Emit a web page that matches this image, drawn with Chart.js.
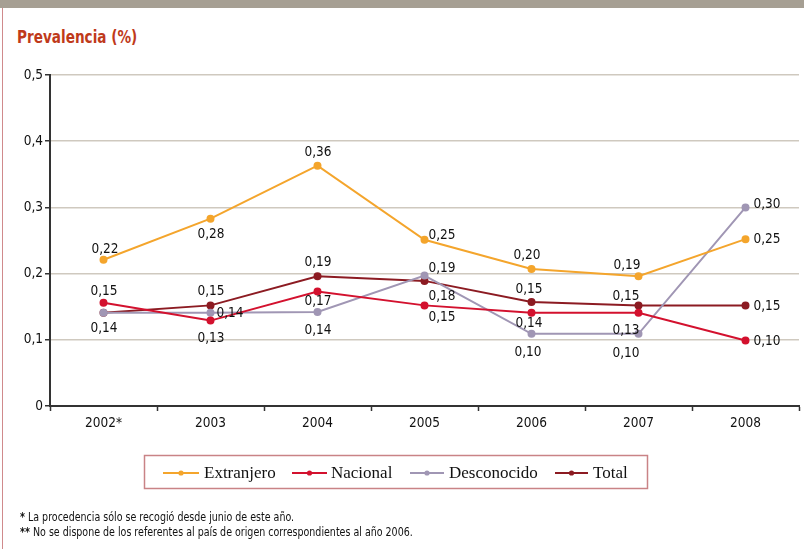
<!DOCTYPE html>
<html>
<head>
<meta charset="utf-8">
<script src="https://cdn.jsdelivr.net/npm/chart.js@4/dist/chart.umd.min.js"></script>
<style>
  html, body { margin: 0; padding: 0; background: #fff; }
  #wrap { position: relative; width: 804px; height: 549px; overflow: hidden; background: #fff; }
  #topbar { position: absolute; left: 0; top: 0; width: 804px; height: 8px; background: #a69f93; }
  #leftline { position: absolute; left: 2px; top: 8px; width: 1px; height: 541px; background: #d08a8c; }
  #title { position: absolute; left: 17px; top: 27px; font-family: "Liberation Sans Narrow", "DejaVu Sans Condensed", sans-serif; font-weight: bold; font-size: 17px; color: #bf3a1b; white-space: nowrap; transform: scaleX(0.89); transform-origin: left top; }
  #notes { position: absolute; left: 20px; top: 510px; font-family: "Liberation Sans Narrow", "DejaVu Sans Condensed", sans-serif; font-size: 12px; line-height: 15px; color: #111; white-space: nowrap; transform: scaleX(0.88); transform-origin: left top; }
  #notes b { font-weight: bold; }
  canvas { position: absolute; left: 0; top: 0; }
</style>
</head>
<body>
<div id="wrap">
  <div id="topbar"></div>
  <div id="leftline"></div>
  <div id="title">Prevalencia (%)</div>
  <canvas id="c" width="804" height="549"></canvas>
  <div id="notes"><b>*</b> La procedencia sólo se recogió desde junio de este año.<br><b>**</b> No se dispone de los referentes al país de origen correspondientes al año 2006.</div>
</div>
<script>
// ---- Data ----
const categories = ['2002*', '2003', '2004', '2005', '2006', '2007', '2008'];
const seriesNames = ['Extranjero', 'Nacional', 'Desconocido', 'Total'];
const extranjero  = [0.221, 0.283, 0.363, 0.251, 0.207, 0.196, 0.252];
const nacional    = [0.156, 0.129, 0.173, 0.152, 0.141, 0.141, 0.099];
const desconocido = [0.141, 0.141, 0.142, 0.197, 0.109, 0.109, 0.300];
const total       = [0.141, 0.152, 0.196, 0.189, 0.157, 0.152, 0.152];
const extLabels = ['0,22', '0,28', '0,36', '0,25', '0,20', '0,19', '0,25'];
const nacLabels = ['0,15', '0,13', '0,17', '0,15', '0,14', '0,13', '0,10'];
const desLabels = ['0,14', '0,14', '0,14', '0,19', '0,10', '0,10', '0,30'];
const totLabels = ['0,14', '0,15', '0,19', '0,18', '0,15', '0,15', '0,15'];
const yTicks = [0, 0.1, 0.2, 0.3, 0.4, 0.5];

// ---- Styles ----
const colors = ['#f4a52c', '#d3112e', '#a096b4', '#8c1b22'];
const labelOffsets = [
  [[1,-11],[0,15],[0,-14],[17,-5],[-5,-14],[-12,-11],[21,0]],
  [[0,-12],[0,17],[0,10],[17,12],[-3,10],[-13,17],[21,1]],
  [[0,15],[19,0],[0,18],[17,-8],[-4,18],[-13,19],[21,-3]],
  [[0,15],[0,-14],[0,-14],[17,15],[-3,-13],[-13,-9],[21,1]]
];
const narrow = '"Liberation Sans Narrow", "DejaVu Sans Condensed", sans-serif';

const allValues = [extranjero, nacional, desconocido, total];
const allLabels = [extLabels, nacLabels, desLabels, totLabels];

const datasets = allValues.map((vals, i) => ({
  label: seriesNames[i],
  data: vals,
  borderColor: colors[i],
  backgroundColor: colors[i],
  pointBackgroundColor: colors[i],
  pointBorderColor: colors[i],
  pointRadius: 3,
  pointHoverRadius: 3,
  borderWidth: 2,
  tension: 0,
  fill: false
}));

const valueLabels = {
  id: 'valueLabels',
  afterDatasetsDraw(chart) {
    const ctx = chart.ctx;
    ctx.save();
    ctx.font = '13.5px ' + narrow;
    ctx.fillStyle = '#111';
    ctx.textAlign = 'center';
    ctx.textBaseline = 'middle';
    const drawn = new Set();
    chart.data.datasets.forEach((ds, di) => {
      const meta = chart.getDatasetMeta(di);
      meta.data.forEach((pt, i) => {
        const off = labelOffsets[di][i];
        const x = Math.round(pt.x + off[0]), y = Math.round(pt.y + off[1]);
        const key = allLabels[di][i] + '@' + x + ',' + y;
        if (drawn.has(key)) return;
        drawn.add(key);
        ctx.fillText(allLabels[di][i], x, y);
      });
    });
    ctx.restore();
  }
};

const customLegend = {
  id: 'customLegend',
  afterDraw(chart) {
    const ctx = chart.ctx;
    ctx.save();
    ctx.strokeStyle = '#c98386';
    ctx.lineWidth = 1.5;
    ctx.strokeRect(144.5, 455.5, 503, 33);
    const items = [
      { x0: 163, x1: 199, tx: 204 },
      { x0: 292, x1: 327, tx: 331 },
      { x0: 410, x1: 444, tx: 449 },
      { x0: 555, x1: 588, tx: 593 }
    ];
    const y = 473;
    ctx.font = '17px "Liberation Serif", "DejaVu Serif", serif';
    ctx.textBaseline = 'middle';
    ctx.textAlign = 'left';
    chart.data.datasets.forEach((ds, i) => {
      const it = items[i];
      ctx.strokeStyle = ds.borderColor;
      ctx.lineWidth = 2;
      ctx.beginPath();
      ctx.moveTo(it.x0, y);
      ctx.lineTo(it.x1, y);
      ctx.stroke();
      ctx.fillStyle = ds.borderColor;
      ctx.beginPath();
      ctx.arc((it.x0 + it.x1) / 2, y, 2.6, 0, Math.PI * 2);
      ctx.fill();
      ctx.fillStyle = '#111';
      ctx.fillText(ds.label, it.tx, y + 1);
    });
    ctx.restore();
  }
};

new Chart(document.getElementById('c'), {
  type: 'line',
  data: { labels: categories, datasets },
  plugins: [valueLabels, customLegend],
  options: {
    responsive: false,
    animation: false,
    events: [],
    layout: { padding: { left: 0, right: 5, top: 75, bottom: 113 } },
    plugins: { legend: { display: false }, tooltip: { enabled: false }, title: { display: false } },
    scales: {
      x: {
        type: 'category',
        offset: true,
        afterFit(scale) { scale.height = 30; },
        border: { display: true, color: '#333', width: 2 },
        grid: { offset: true, drawOnChartArea: false, drawTicks: true, tickLength: 5, tickColor: '#333', tickWidth: 1.5 },
        ticks: { color: '#111', font: { family: narrow, size: 13.5 }, padding: 4, maxRotation: 0, autoSkip: false }
      },
      y: {
        min: 0,
        max: 0.5,
        afterFit(scale) { scale.width = 50; },
        afterBuildTicks(scale) { scale.ticks = yTicks.map(v => ({ value: v })); },
        border: { display: true, color: '#333', width: 2 },
        grid: { color: '#cfc9bf', lineWidth: 1.5, drawTicks: true, tickLength: 5, tickColor: '#333', tickWidth: 1.5 },
        ticks: {
          color: '#111',
          font: { family: narrow, size: 13.5 },
          padding: 2,
          callback: v => v === 0 ? '0' : Number(v).toFixed(1).replace('.', ',')
        }
      }
    }
  }
});
</script>
</body>
</html>
